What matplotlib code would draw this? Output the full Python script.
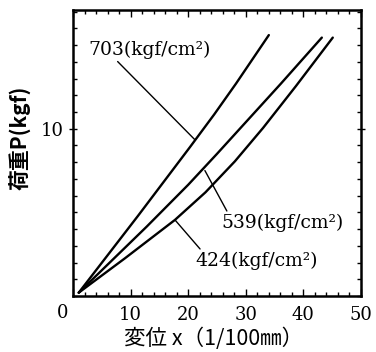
import matplotlib
matplotlib.use("Agg")
import matplotlib.pyplot as plt
from matplotlib.ticker import MultipleLocator, FixedLocator

# ---- data ----
x703 = [1.0, 11.3, 20.3, 24.5, 28.3, 34.0]
y703 = [0.2, 4.8, 8.9, 10.85, 12.7, 15.6]

x539 = [1.0, 12.8, 20.0, 25.0, 36.1, 43.2]
y539 = [0.2, 4.15, 6.65, 8.5, 12.7, 15.45]

x424 = [1.0, 9.0, 17.7, 23.0, 28.1, 33.0, 38.7, 45.1]
y424 = [0.2, 2.25, 4.55, 6.2, 8.05, 10.05, 12.55, 15.45]

labels = ["703(kgf/cm²)", "539(kgf/cm²)", "424(kgf/cm²)"]
label_xy = [(2.6, 14.73), (25.7, 4.37), (21.2, 2.1)]
pointer_xy = [(21.2, 9.33), (22.9, 7.5), (17.7, 4.55)]
xticks = [10, 20, 30, 40, 50]
yticks = [10]

serif = ["DejaVu Serif", "Noto Sans CJK JP"]
cjk = ["Noto Sans CJK JP", "DejaVu Serif"]

fig = plt.figure(figsize=(3.76, 3.52), dpi=100)
ax = fig.add_axes([73/376, 1-296/352, (361-73)/376, (296-10)/352])

lw = 1.7
for xs, ys in [(x703, y703), (x539, y539), (x424, y424)]:
    ax.plot(xs, ys, color="black", lw=lw, solid_capstyle="round", solid_joinstyle="round")

ax.set_xlim(0, 50)
ax.set_ylim(0, 17.1)

for s in ax.spines.values():
    s.set_linewidth(1.8)

ax.xaxis.set_major_locator(FixedLocator([0] + xticks))
ax.xaxis.set_minor_locator(MultipleLocator(2))
ax.yaxis.set_major_locator(FixedLocator(yticks))
ax.yaxis.set_minor_locator(MultipleLocator(1))
ax.set_xticklabels([""] + [str(v) for v in xticks])
ax.set_yticklabels([str(v) for v in yticks])

ax.tick_params(axis="x", which="both", direction="in", top=True, bottom=True, pad=7)
ax.tick_params(axis="x", which="major", length=5, width=1.0)
ax.tick_params(axis="x", which="minor", length=3, width=1.0)
ax.tick_params(axis="y", which="both", direction="in", left=True, right=True)
ax.tick_params(axis="y", which="major", length=6, width=1.0, direction="inout", pad=4)
ax.tick_params(axis="y", which="minor", length=3, width=1.0)
for lab in ax.get_xticklabels() + ax.get_yticklabels():
    lab.set_family(serif)
    lab.set_fontsize(13)

# corner zero
ax.annotate("0", xy=(0, 0), xycoords="data", xytext=(-10, -17), textcoords="offset pixels",
            ha="center", va="center", fontsize=13, family=serif)

# annotations
fs = 13.5
relposes = [(0.22, 0.0), (0.06, 1.0), (0.06, 1.0)]
for lab, txy, pxy, rp in zip(labels, label_xy, pointer_xy, relposes):
    ax.annotate(lab, xy=pxy, xytext=txy, ha="left", va="center",
                fontsize=fs, family=serif,
                arrowprops=dict(arrowstyle="-", lw=1.0, color="black", shrinkA=0, shrinkB=0,
                                relpos=rp))

# axis labels
fig.text(214/376, 1-339/352, "変位 x（1/100㎜）", ha="center", va="center",
         fontsize=15.5, family=cjk)
fig.text(20/376, 1-138/352, "荷重P(kgf)", ha="center", va="center", rotation=90,
         fontsize=15, family=cjk, fontweight="bold")

fig.savefig("out.png", dpi=100)
